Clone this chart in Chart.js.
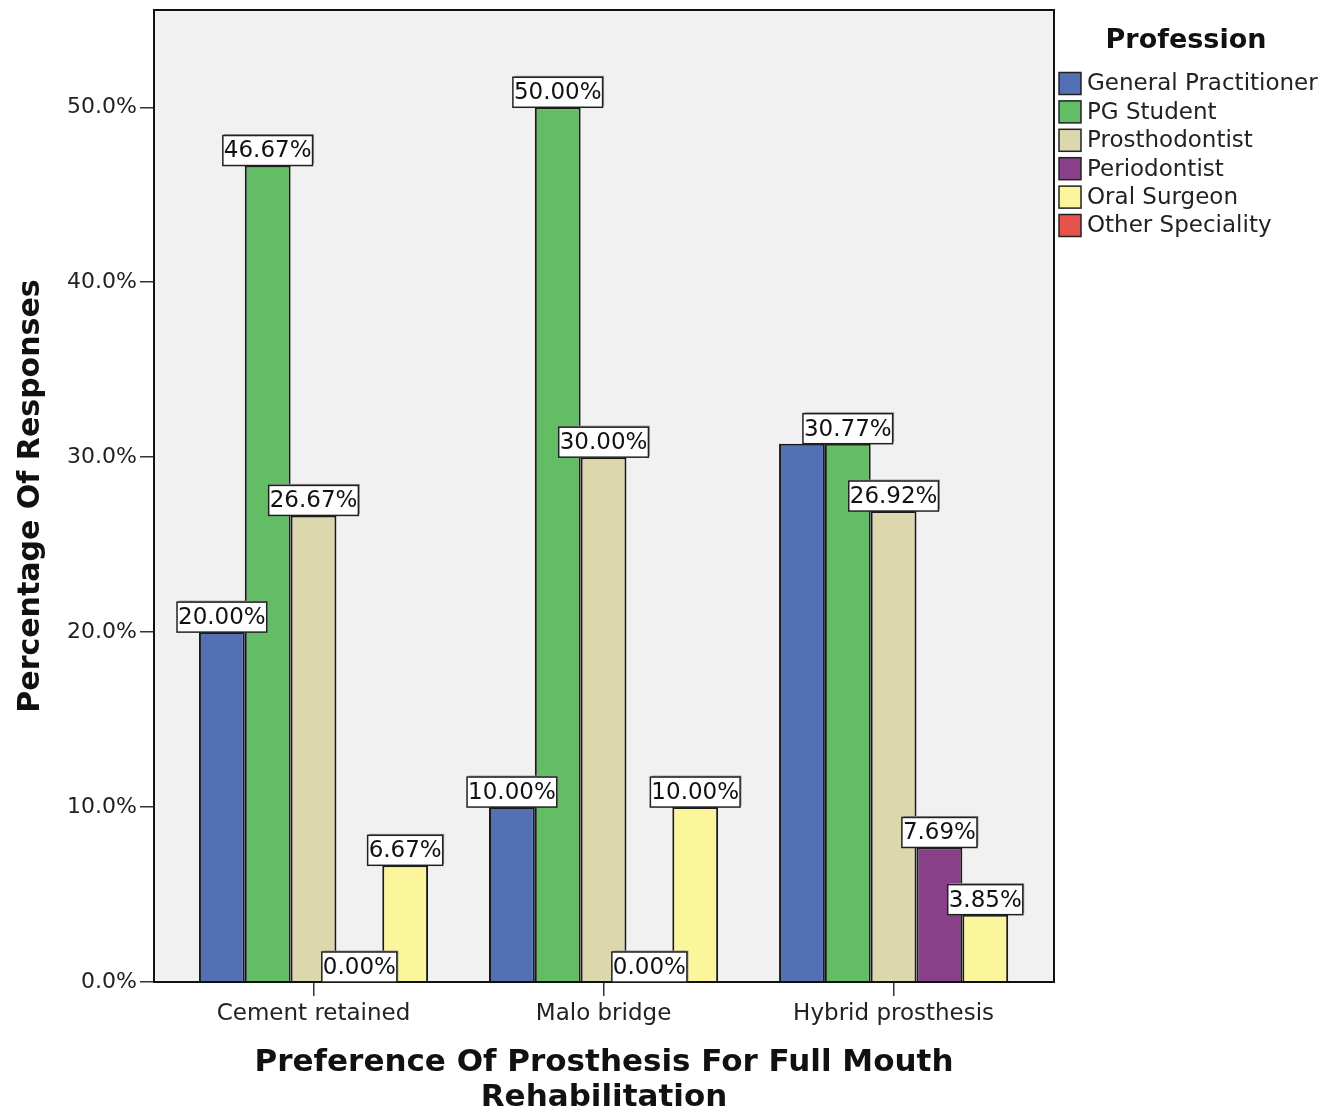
<!DOCTYPE html>
<html>
<head>
<meta charset="utf-8">
<script src="https://cdn.jsdelivr.net/npm/chart.js@4/dist/chart.umd.min.js"></script>
<style>
html,body{margin:0;padding:0;background:#fff;}
#wrap{width:1337px;height:1112px;position:relative;}
</style>
</head>
<body>
<div id="wrap"><canvas id="c" width="1337" height="1112"></canvas></div>
<script>
const categories = ['Cement retained', 'Malo bridge', 'Hybrid prosthesis'];
const generalPractitioner = [20.00, 10.00, 30.77];
const pgStudent = [46.67, 50.00, 30.77];
const prosthodontist = [26.67, 30.00, 26.92];
const periodontist = [0.00, 0.00, 7.69];
const oralSurgeon = [6.67, 10.00, 3.85];
const otherSpeciality = [null, null, null];
const seriesNames = ['General Practitioner', 'PG Student', 'Prosthodontist', 'Periodontist', 'Oral Surgeon', 'Other Speciality'];
const seriesColors = ['#5370b5', '#62bd64', '#dcd7ad', '#884189', '#fbf59b', '#e6534b'];
const yTicks = [0, 10, 20, 30, 40, 50];
const legendTitle = 'Profession';
const xTitle = ['Preference Of Prosthesis For Full Mouth', 'Rehabilitation'];
const yTitle = 'Percentage Of Responses';

Chart.defaults.font.family = "'DejaVu Sans', sans-serif";
Chart.defaults.color = '#222';

const seriesData = [generalPractitioner, pgStudent, prosthodontist, periodontist, oralSurgeon, otherSpeciality];

const plotPlugin = {
  id: 'plotDeco',
  beforeDraw(chart) {
    const {ctx, chartArea: a} = chart;
    ctx.save();
    ctx.fillStyle = '#f1f1f1';
    ctx.fillRect(a.left, a.top, a.right - a.left, a.bottom - a.top);
    ctx.restore();
  },
  afterDatasetsDraw(chart) {
    const {ctx, chartArea: a} = chart;
    ctx.save();
    ctx.strokeStyle = '#111';
    ctx.lineWidth = 2;
    ctx.strokeRect(a.left, a.top, a.right - a.left, a.bottom - a.top);
    // data labels
    ctx.font = "23px 'DejaVu Sans'";
    ctx.textAlign = 'center';
    ctx.textBaseline = 'middle';
    const drawn = [];
    for (let d = chart.data.datasets.length - 1; d >= 0; d--) {
      const meta = chart.getDatasetMeta(d);
      const ds = chart.data.datasets[d];
      ds.data.forEach((v, i) => {
        if (v === null || v === undefined) return;
        const el = meta.data[i];
        const txt = v.toFixed(2) + '%';
        const w = ctx.measureText(txt).width + 2;
        const h = 30;
        const x0 = el.x - w / 2, y0 = el.y - h;
        const overlap = drawn.some(b => x0 < b.x + b.w - 4 && x0 + w > b.x + 4 && y0 < b.y + b.h - 4 && y0 + h > b.y + 4);
        if (overlap) return;
        drawn.push({x: x0, y: y0, w, h});
        ctx.fillStyle = '#9a9a9a';
        ctx.fillRect(x0 + 1.5, y0 - 1.5, w, h);
        ctx.fillStyle = '#ffffff';
        ctx.fillRect(x0, y0, w, h);
        ctx.strokeStyle = '#222';
        ctx.lineWidth = 1.5;
        ctx.strokeRect(x0, y0, w, h);
        ctx.fillStyle = '#111';
        ctx.fillText(txt, el.x, y0 + h / 2 + 1);
      });
    }
    ctx.restore();
  },
  afterDraw(chart) {
    const {ctx} = chart;
    ctx.save();
    ctx.fillStyle = '#111';
    ctx.textAlign = 'center';
    ctx.textBaseline = 'middle';
    ctx.font = "bold 27px 'DejaVu Sans'";
    ctx.fillText(legendTitle, 1186, 41);
    ctx.font = "23px 'DejaVu Sans'";
    ctx.textAlign = 'left';
    chart.data.datasets.forEach((ds, i) => {
      const cy = 83.5 + i * 28.4;
      ctx.fillStyle = ds.backgroundColor;
      ctx.fillRect(1059, cy - 11, 22, 22);
      ctx.strokeStyle = '#222';
      ctx.lineWidth = 1.5;
      ctx.strokeRect(1059, cy - 11, 22, 22);
      ctx.fillStyle = '#222';
      ctx.fillText(ds.label, 1087, cy + 1);
    });
    ctx.restore();
  }
};

new Chart(document.getElementById('c'), {
  type: 'bar',
  data: {
    labels: categories,
    datasets: seriesNames.map((n, i) => ({
      label: n,
      data: seriesData[i],
      backgroundColor: seriesColors[i]
    }))
  },
  options: {
    responsive: false,
    animation: false,
    layout: {padding: {top: 10, right: 283, left: 0, bottom: 0}},
    datasets: {
      bar: {
        skipNull: true,
        categoryPercentage: 0.79,
        barPercentage: 1,
        borderWidth: 2,
        borderColor: '#1a1a1a'
      }
    },
    plugins: {
      legend: {display: false},
      tooltip: {enabled: false}
    },
    scales: {
      x: {
        afterFit(s) { s.height = 130; s.paddingLeft = 0; s.paddingRight = 0; },
        afterBuildTicks(s) { s._startValue = -0.55; s._valueRange = 3.103; },
        grid: {display: true, drawOnChartArea: false, drawTicks: true, tickLength: 14, offset: false, color: '#333', lineWidth: 1.5},
        border: {display: false},
        ticks: {font: {size: 23}, color: '#222', padding: 4, maxRotation: 0},
        title: {display: true, text: xTitle, font: {size: 31, weight: 'bold', lineHeight: 1.13}, color: '#111', padding: {top: 0, bottom: -3}}
      },
      y: {
        min: 0,
        max: 55.56,
        afterFit(s) { s.width = 154; s.paddingTop = 0; s.paddingBottom = 0; },
        afterBuildTicks(s) { s.ticks = yTicks.map(v => ({value: v})); },
        grid: {display: true, drawOnChartArea: false, drawTicks: true, tickLength: 14, color: '#333', lineWidth: 1.5},
        border: {display: false},
        ticks: {font: {size: 22}, color: '#222', padding: 3, callback: v => v.toFixed(1) + '%'},
        title: {display: true, text: yTitle, font: {size: 30, weight: 'bold', lineHeight: 1.2}, color: '#111', padding: {top: 13, bottom: 0}}
      }
    }
  },
  plugins: [plotPlugin]
});
</script>
</body>
</html>
